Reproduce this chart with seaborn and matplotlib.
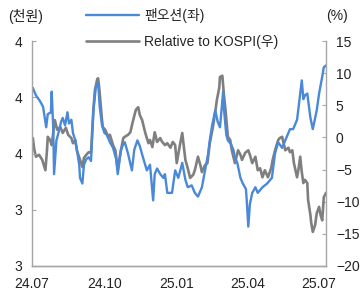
import numpy as np
import pandas as pd
import matplotlib
matplotlib.use("Agg")
import matplotlib.pyplot as plt
import matplotlib.dates as mdates
import seaborn as sns

# days since 2024-07-01
price_days = [1, 5, 10, 14, 18, 20, 24, 25, 27, 28, 31, 33, 37, 39, 42, 45, 47, 50, 52, 55,
              57, 60, 61, 64, 66, 69, 72, 75, 78, 81, 84, 86, 89, 92, 95, 99, 103, 107, 109, 113,
              116, 118, 122, 127, 130, 134, 137, 141, 146, 150, 154, 156, 159, 163, 167, 169, 172, 178, 182, 186,
              191, 195, 198, 203, 207, 211, 216, 220, 224, 226, 229, 233, 236, 239, 243, 244, 247, 249, 253, 256,
              258, 261, 265, 268, 272, 273, 275, 277, 280, 284, 287, 293, 296, 299, 303, 305, 309, 313, 318, 322,
              324, 328, 332, 337, 341, 343, 345, 347, 350, 354, 357, 360, 362, 365, 369, 371, 374]
# 팬오션 share price (thousand won)
price = [3.95, 3.91, 3.88, 3.85, 3.74, 3.81, 3.82, 3.93, 3.73, 3.49, 3.67, 3.70, 3.77, 3.79, 3.75, 3.82, 3.76, 3.78, 3.71, 3.67,
         3.62, 3.54, 3.47, 3.44, 3.54, 3.57, 3.58, 3.56, 3.83, 3.95, 3.98, 3.85, 3.75, 3.71, 3.70, 3.66, 3.63, 3.57, 3.49, 3.62,
         3.65, 3.66, 3.60, 3.51, 3.62, 3.67, 3.64, 3.58, 3.51, 3.54, 3.35, 3.49, 3.52, 3.49, 3.47, 3.49, 3.39, 3.39, 3.51, 3.47,
         3.55, 3.46, 3.42, 3.43, 3.39, 3.37, 3.42, 3.51, 3.60, 3.67, 3.75, 3.83, 3.77, 3.74, 3.93, 3.84, 3.70, 3.67, 3.65, 3.62,
         3.58, 3.55, 3.47, 3.44, 3.41, 3.35, 3.21, 3.33, 3.39, 3.42, 3.39, 3.42, 3.43, 3.44, 3.46, 3.47, 3.60, 3.66, 3.63, 3.67,
         3.69, 3.73, 3.73, 3.78, 3.92, 3.99, 3.89, 3.91, 3.92, 3.79, 3.73, 3.79, 3.83, 3.92, 4.01, 4.06, 4.07]

rel_days = [1, 3, 5, 9, 13, 17, 19, 20, 23, 25, 29, 32, 36, 39, 43, 46, 50, 52, 55, 57,
            61, 64, 66, 69, 72, 75, 78, 80, 83, 84, 85, 86, 89, 90, 93, 97, 99, 103, 106, 109,
            112, 116, 118, 122, 125, 128, 132, 135, 137, 140, 144, 148, 150, 153, 156, 159, 163, 165, 169, 172,
            176, 179, 182, 184, 188, 191, 195, 198, 201, 205, 207, 211, 214, 216, 220, 223, 226, 230, 233, 235,
            238, 239, 242, 244, 246, 249, 252, 254, 258, 262, 265, 267, 271, 275, 277, 280, 284, 287, 290, 293,
            296, 300, 304, 306, 309, 313, 315, 318, 322, 326, 328, 331, 333, 337, 339, 341, 343, 345, 347, 350,
            351, 354, 355, 357, 360, 362, 365, 367, 369, 371, 374]
# relative return vs KOSPI (%)
rel = [-0.1, -2.0, -3.0, -2.7, -3.5, -5.1, -2.0, 0.1, -0.4, -1.2, 2.7, 1.2, 1.6, 0.7, 1.5, 0.4, -0.1, -0.9, -0.4, -2.0,
       -3.5, -4.6, -3.2, -2.7, -2.3, -2.4, 4.3, 7.4, 9.1, 9.2, 8.2, 6.9, 2.7, 1.6, 1.2, 0.1, 0.4, -1.2, -2.0, -5.1,
       -2.7, -0.1, 0.1, 0.4, 0.8, 2.4, 4.3, 4.7, 3.5, 2.7, 0.7, -0.9, -0.4, -1.5, 0.8, -0.7, -0.1, -0.6, -1.2, -0.9,
       -1.6, -0.7, -1.2, -4.0, -1.2, 0.7, -3.5, -4.8, -6.3, -5.8, -5.1, -3.0, -4.3, -5.4, -4.3, -4.0, -0.9, 1.6, 4.0, 5.8,
       7.7, 9.4, 9.6, 6.6, 4.3, 0.1, -0.4, -2.0, -4.0, -2.0, -2.7, -3.5, -2.4, -2.0, -2.7, -4.0, -3.0, -5.1, -4.8, -6.2,
       -5.1, -6.2, -4.8, -3.5, -2.0, -0.4, -0.1, 0.1, -2.0, -1.6, -2.3, -2.0, -4.0, -6.2, -4.8, -3.0, -5.4, -7.1, -6.6, -7.1,
       -9.7, -12.1, -13.3, -14.7, -13.6, -11.8, -10.8, -12.1, -12.9, -9.3, -8.6]

left_ticks = [4.2, 3.9, 3.6, 3.3, 3.0]
right_ticks = [15, 10, 5, 0, -5, -10, -15, -20]
x_ticks = ["2024-07-01", "2024-10-01", "2025-01-01", "2025-04-01", "2025-07-01"]
labels = ["팬오션(좌)", "Relative to KOSPI(우)"]

start = pd.Timestamp("2024-07-01")
df_p = pd.DataFrame({"date": start + pd.to_timedelta(price_days, unit="D"), "v": price})
df_r = pd.DataFrame({"date": start + pd.to_timedelta(rel_days, unit="D"), "v": rel})

sns.set_style("white")
plt.rcParams["font.family"] = ["Liberation Sans", "Noto Sans CJK KR"]
plt.rcParams["axes.unicode_minus"] = True

blue = "#4a88d8"
grey = "#7f7f7f"
spine_c = "#a6a6a6"

fig = plt.figure(figsize=(3.6, 2.91), dpi=100)
ax = fig.add_axes([0.089, 0.086, 0.817, 0.773])
ax2 = ax.twinx()

sns.lineplot(data=df_p, x="date", y="v", ax=ax, color=blue, lw=1.7, label=labels[0], legend=False)
sns.lineplot(data=df_r, x="date", y="v", ax=ax2, color=grey, lw=1.9, label=labels[1], legend=False)
# blue on top of grey
ax.set_zorder(2)
ax2.set_zorder(1)
ax.patch.set_visible(False)

ax.set_ylim(3.0, 4.2)
ax.set_yticks(left_ticks)
ax.set_yticklabels(["%.0f" % t for t in left_ticks])
ax2.set_ylim(-20, 15)
ax2.set_yticks(right_ticks)
ax2.set_yticklabels(["%d" % t if t >= 0 else "\u2212%d" % -t for t in right_ticks])

ax.set_xlim(start, start + pd.Timedelta(days=374))
ax.set_xticks(pd.to_datetime(x_ticks))
ax.xaxis.set_major_formatter(mdates.DateFormatter("%y.%m"))
ax.set_xlabel("")
ax.set_ylabel("")
ax2.set_ylabel("")

for a in (ax, ax2):
    for s in a.spines.values():
        s.set_color(spine_c)
        s.set_linewidth(1.0)
    a.spines["top"].set_visible(False)
    a.tick_params(direction="in", length=3, color=spine_c, labelsize=10, labelcolor="#222222", pad=7)
ax.tick_params(axis="x", pad=8)
ax2.spines["left"].set_visible(False)
ax.spines["right"].set_visible(False)

fig.text(0.022, 0.945, "(천원)", fontsize=10, color="#222222", va="center")
fig.text(0.905, 0.945, "(%)", fontsize=10, color="#222222", va="center")

h1, _ = ax.get_legend_handles_labels()
h2, _ = ax2.get_legend_handles_labels()
fig.legend(h1 + h2, labels, loc="upper left", bbox_to_anchor=(0.215, 1.0), frameon=False,
           fontsize=10, handlelength=3.8, labelspacing=0.85, handletextpad=0.4,
           borderaxespad=0.2)

fig.savefig("out.png", dpi=100)
